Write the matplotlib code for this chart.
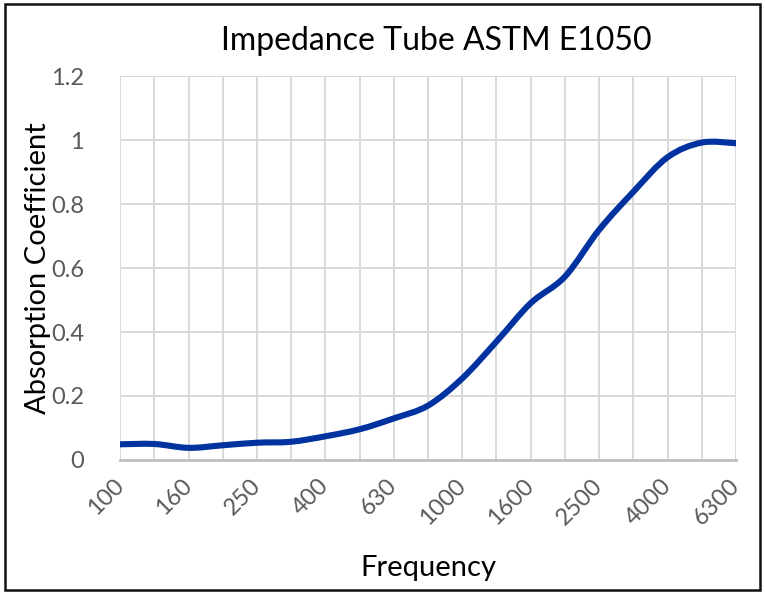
import matplotlib.pyplot as plt
import numpy as np
from matplotlib.path import Path
from matplotlib.patches import PathPatch, Rectangle

# 1/3 octave band centre frequencies (Hz) and measured absorption
bands = ["100", "125", "160", "200", "250", "315", "400", "500", "630", "800",
         "1000", "1250", "1600", "2000", "2500", "3150", "4000", "5000", "6300"]
alpha = [0.049, 0.050, 0.038, 0.046, 0.054, 0.057, 0.074, 0.096, 0.130, 0.170,
         0.255, 0.370, 0.490, 0.573, 0.719, 0.838, 0.946, 0.992, 0.990]

FONT = "Lato"
GREY = "#595959"
BLUE = "#0033A0"


def smooth_path(x, y, k=1/6):
    # Excel style smoothed line: cubic bezier through every point
    x = np.asarray(x, float)
    y = np.asarray(y, float)
    verts = [(x[0], y[0])]
    codes = [Path.MOVETO]
    n = len(x)
    for i in range(n - 1):
        x0, y0 = (x[i - 1], y[i - 1]) if i > 0 else (x[i], y[i])
        x3, y3 = (x[i + 2], y[i + 2]) if i + 2 < n else (x[i + 1], y[i + 1])
        c1 = (x[i] + (x[i + 1] - x0) * k, y[i] + (y[i + 1] - y0) * k)
        c2 = (x[i + 1] - (x3 - x[i]) * k, y[i + 1] - (y3 - y[i]) * k)
        verts += [c1, c2, (x[i + 1], y[i + 1])]
        codes += [Path.CURVE4] * 3
    return Path(verts, codes)


fig = plt.figure(figsize=(7.65, 5.94), dpi=100)
ax = fig.add_axes([0.157, 0.2256, 0.805, 0.6464])

pos = np.arange(len(bands))
ax.add_patch(PathPatch(smooth_path(pos, alpha), facecolor="none",
                       edgecolor=BLUE, linewidth=4.4, capstyle="round",
                       joinstyle="round", zorder=3))

ax.set_xlim(0, len(bands) - 1)
ax.set_ylim(0, 1.2)
ax.set_xticks(pos)
ax.set_xticklabels([b if i % 2 == 0 else "" for i, b in enumerate(bands)],
                   rotation=45, ha="right", va="center", rotation_mode="anchor",
                   fontsize=17, color=GREY, family=FONT)
ax.set_yticks(np.arange(0, 1.21, 0.2))
ax.set_yticklabels(["0", "0.2", "0.4", "0.6", "0.8", "1", "1.2"],
                   fontsize=17, color=GREY, family=FONT)
ax.tick_params(axis="both", length=0)
ax.tick_params(axis="x", pad=16)
ax.tick_params(axis="y", pad=26)

ax.grid(True, color="#d9d9d9", linewidth=1.4)
ax.set_axisbelow(True)
for side in ("top", "right", "left"):
    ax.spines[side].set_visible(False)
ax.spines["bottom"].set_color("#bfbfbf")
ax.spines["bottom"].set_linewidth(2)

ax.set_title("Impedance Tube ASTM E1050", fontsize=23, family=FONT,
             color="black", pad=19, x=0.513)
ax.set_xlabel("Frequency", fontsize=21, family=FONT, labelpad=19)
ax.set_ylabel("Absorption Coefficient", fontsize=21, family=FONT, labelpad=0)

fig.patches.append(Rectangle((0.007, 0.007), 0.987, 0.986, transform=fig.transFigure,
                             fill=False, edgecolor="#111111", linewidth=1.8))

fig.savefig("out.png", dpi=100, facecolor="white")
